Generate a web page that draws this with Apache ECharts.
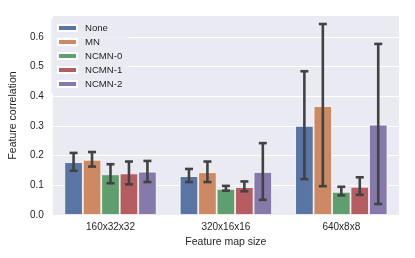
<!DOCTYPE html>
<html><head><meta charset="utf-8">
<script src="https://cdn.jsdelivr.net/npm/echarts@6/dist/echarts.min.js"></script>
<style>html,body{margin:0;padding:0;background:#fff}#c{width:415px;height:258px}</style>
</head><body><div id="c"></div>
<script>
const categories = ['160x32x32', '320x16x16', '640x8x8'];
const seriesNames = ['None', 'MN', 'NCMN-0', 'NCMN-1', 'NCMN-2'];
const colors = ['#5975a4', '#cc8963', '#5f9e6e', '#b55d60', '#857aab'];
const valNone  = [0.178, 0.131, 0.300];
const valMN    = [0.186, 0.144, 0.367];
const valN0    = [0.137, 0.088, 0.078];
const valN1    = [0.140, 0.094, 0.095];
const valN2    = [0.146, 0.145, 0.304];
const loNone = [0.149, 0.111, 0.121], hiNone = [0.209, 0.155, 0.484];
const loMN   = [0.163, 0.111, 0.097], hiMN   = [0.212, 0.180, 0.643];
const loN0   = [0.107, 0.082, 0.066], hiN0   = [0.171, 0.098, 0.095];
const loN1   = [0.103, 0.080, 0.068], hiN1   = [0.180, 0.113, 0.127];
const loN2   = [0.111, 0.051, 0.037], hiN2   = [0.182, 0.242, 0.576];
const yTicks = [0, 0.1, 0.2, 0.3, 0.4, 0.5, 0.6];

const values = [valNone, valMN, valN0, valN1, valN2];
const los = [loNone, loMN, loN0, loN1, loN2];
const his = [hiNone, hiMN, hiN0, hiN1, hiN2];
const font = 'Liberation Sans, Arial, sans-serif';
const txt = '#262626';

const series = [];
seriesNames.forEach((n, i) => {
  series.push({
    name: n, type: 'bar', data: values[i],
    barGap: '0%', barCategoryGap: '20%',
    itemStyle: { color: colors[i], borderColor: '#ffffff', borderWidth: 0.8 },
    z: 2
  });
});
seriesNames.forEach((n, i) => {
  series.push({
    name: 'err_' + n, type: 'custom', z: 5,
    data: categories.map((c, k) => [k, los[i][k], his[i][k]]),
    renderItem: function (params, api) {
      const k = api.value(0);
      const band = api.size([1, 0])[0];
      const barW = band * 0.8 / 5;
      const cx = api.coord([k, 0])[0] + (i - 2) * barW;
      const yLo = api.coord([k, api.value(1)])[1];
      const yHi = api.coord([k, api.value(2)])[1];
      const cap = 4;
      const st = { stroke: '#424242', lineWidth: 2.6 };
      return { type: 'group', children: [
        { type: 'line', shape: { x1: cx, y1: yLo, x2: cx, y2: yHi }, style: st },
        { type: 'line', shape: { x1: cx - cap, y1: yHi, x2: cx + cap, y2: yHi }, style: st },
        { type: 'line', shape: { x1: cx - cap, y1: yLo, x2: cx + cap, y2: yLo }, style: st }
      ]};
    }
  });
});

const chart = echarts.init(document.getElementById('c'), null, { renderer: 'canvas' });
chart.setOption({
  animation: false,
  textStyle: { fontFamily: font },
  grid: { left: 48, right: 16, top: 16, bottom: 43, show: true, backgroundColor: '#eaeaf2', borderWidth: 0 },
  legend: {
    data: seriesNames, orient: 'vertical', left: 51, top: 19,
    padding: [4, 6, 4, 6], itemWidth: 19, itemHeight: 6, itemGap: 4,
    backgroundColor: 'rgba(234,234,242,0.8)', borderWidth: 0,
    icon: 'rect',
    textStyle: { fontFamily: font, fontSize: 9.6, color: txt, lineHeight: 10, padding: [0, 0, 0, 3] }
  },
  xAxis: {
    type: 'category', data: categories,
    name: 'Feature map size', nameLocation: 'middle', nameGap: 21,
    nameTextStyle: { fontFamily: font, fontSize: 10.5, color: txt },
    axisLine: { show: false }, axisTick: { show: false },
    axisLabel: { fontFamily: font, fontSize: 10, color: txt, margin: 7 },
    splitLine: { show: false }
  },
  yAxis: {
    type: 'value', min: 0, max: 0.67, interval: 0.1,
    name: 'Feature correlation', nameLocation: 'middle', nameGap: 27,
    nameTextStyle: { fontFamily: font, fontSize: 10.5, color: txt },
    axisLine: { show: false }, axisTick: { show: false },
    axisLabel: {
      fontFamily: font, fontSize: 10, color: txt, margin: 9, showMaxLabel: false,
      formatter: v => yTicks.some(t => Math.abs(t - v) < 1e-9) ? v.toFixed(1) : ''
    },
    splitLine: { show: true, showMinLine: false, showMaxLine: false, lineStyle: { color: '#ffffff', width: 1 } }
  },
  series: series
});
</script></body></html>
